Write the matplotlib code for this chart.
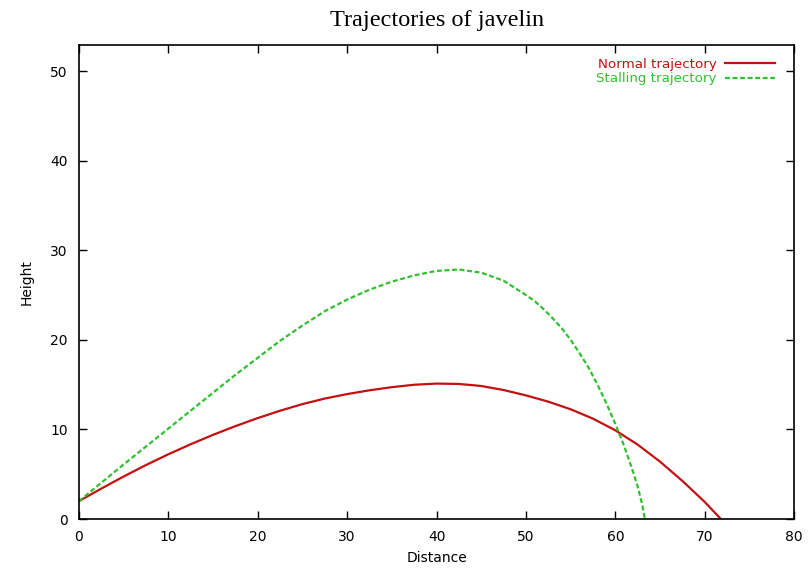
import matplotlib.pyplot as plt

# Normal trajectory (red, solid)
normal_x = [0, 2.5, 5, 7.5, 10, 12.5, 15, 17.5, 20, 22.5, 25, 27.5, 30, 32.5, 35, 37.5,
            40, 42.5, 45, 47.5, 50, 52.5, 55, 57.5, 60, 62.5, 65, 67.5, 70, 71.8]
normal_y = [2.0, 3.4, 4.75, 6.03, 7.23, 8.35, 9.4, 10.37, 11.27, 12.09, 12.83, 13.45, 13.95, 14.37, 14.72, 14.99,
            15.12, 15.08, 14.85, 14.4, 13.8, 13.1, 12.25, 11.2, 9.9, 8.3, 6.4, 4.25, 1.9, 0.0]

# Stalling trajectory (green, dashed)
stall_x = [0, 2.5, 5, 7.5, 10, 12.5, 15, 17.5, 20, 22.5, 25, 27.5, 30, 32.5, 35, 37.5,
           40, 42.5, 45, 47.5, 50, 51, 52, 53, 54, 55, 56, 57, 58, 59, 60, 61, 62, 62.5, 63, 63.3]
stall_y = [2.0, 4.05, 6.1, 8.1, 10.1, 12.1, 14.1, 16.1, 18.0, 19.9, 21.6, 23.2, 24.5, 25.6, 26.5, 27.2,
           27.7, 27.85, 27.5, 26.6, 25.0, 24.3, 23.4, 22.4, 21.3, 20.0, 18.5, 16.9, 15.0, 12.9, 10.6, 8.1, 5.2, 3.6, 1.6, 0.0]

red = '#c41010'
green = '#30c030'

fig = plt.figure(figsize=(8.1, 5.71), dpi=100)
ax = fig.add_axes([0.0975, 0.091, 0.883, 0.830])

ax.plot(normal_x, normal_y, color=red, lw=1.6, label='Normal trajectory')
ax.plot(stall_x, stall_y, color=green, lw=1.6, ls=(0, (2.2, 1.2)), label='Stalling trajectory')

ax.set_xlim(0, 80)
ax.set_ylim(0, 52.9)
ax.set_xticks(range(0, 81, 10))
ax.set_yticks(range(0, 51, 10))
ax.tick_params(direction='in', length=6, width=1, top=True, right=True, labelsize=10, pad=8)
for s in ax.spines.values():
    s.set_linewidth(1.2)

ax.set_xlabel('Distance', fontsize=10, labelpad=5)
ax.set_ylabel('Height', fontsize=10, labelpad=12)
ax.set_title('Trajectories of javelin', family='Liberation Serif', fontsize=17.5, pad=14)

leg = ax.legend(loc='upper right', bbox_to_anchor=(1 - 14 / 715, 1 - 7.7 / 474), frameon=False,
                markerfirst=False, fontsize=9.6, handlelength=3.75, labelspacing=0.1,
                borderaxespad=0, borderpad=0.4, handletextpad=0.6)
for txt, c in zip(leg.get_texts(), [red, green]):
    txt.set_color(c)

fig.savefig('out.png', dpi=100)
